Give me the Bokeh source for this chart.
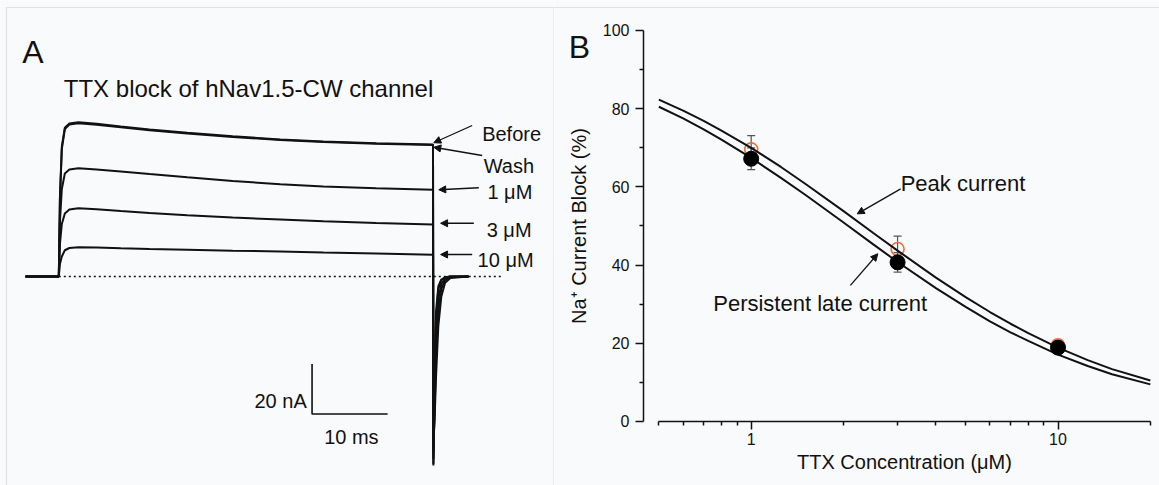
from bokeh.plotting import figure
from bokeh.layouts import row
from bokeh.models import (ColumnDataSource, Label, Arrow, NormalHead, BoxAnnotation,
                          FixedTicker, Whisker, TeeHead, Range1d)
from bokeh.embed import file_html
from bokeh.resources import INLINE
from bokeh.core.properties import value

FONT = "Liberation Sans"
BG = "#f9fafc"
INK = "#111111"
FRAME = "#a9a9a9"

# ---------------- Panel A data (ms, nA) ----------------
time_ms = [-4.4, 0.0, 0.15, 0.4, 0.8, 1.4, 2.6, 5.0, 8.2, 12.0, 17.0, 23.0, 29.3, 35.0, 42.0, 49.5,
           49.55, 49.7, 49.9, 50.2, 50.6, 51.1, 51.8, 54.2]
trace_before = [0, 0, 32, 52, 59.5, 61.2, 61.7, 61.1, 60.0, 58.8, 57.5, 56.1, 54.8, 54.0, 53.3, 52.8,
                -75.6, -40, -14, -4, -1.2, -0.3, 0, 0]
trace_wash = [0, 0, 31, 51, 59.0, 60.8, 61.3, 60.7, 59.7, 58.5, 57.2, 55.8, 54.6, 53.8, 53.1, 52.6,
              -75.0, -44, -17, -5, -1.5, -0.4, 0, 0]
trace_1uM = [0, 0, 22, 35, 41.2, 42.8, 43.3, 42.8, 42.0, 41.0, 39.7, 38.2, 36.9, 36.0, 35.3, 34.7,
             -73, -50, -24, -9, -3, -0.8, -0.1, 0]
trace_3uM = [0, 0, 13, 21, 25.2, 26.8, 27.3, 26.9, 26.2, 25.4, 24.5, 23.6, 22.8, 22.1, 21.4, 20.8,
             -70, -55, -32, -14, -5, -1.5, -0.3, 0]
trace_10uM = [0, 0, 5, 8, 10.5, 11.4, 11.7, 11.6, 11.3, 11.0, 10.7, 10.3, 10.0, 9.6, 9.2, 8.7,
              -66, -58, -40, -20, -8, -2.5, -0.6, 0]

trace_names = ["Before", "Wash", "1 μM", "3 μM", "10 μM"]
name_t = [56.0, 56.2, 56.7, 56.6, 55.4]
name_I = [57.1, 44.1, 33.7, 18.8, 6.7]
arrow_t0 = [54.68, 56.0, 55.56, 54.9, 54.68]
arrow_I0 = [60.4, 48.4, 35.5, 21.3, 8.8]
arrow_t1 = [49.6, 49.6, 50.26, 50.5, 50.5]
arrow_I1 = [53.5, 51.7, 34.7, 21.3, 8.8]

zero_t = [0.0, 58.7]
zero_I = [0.0, 0.0]
scalebar_t = [33.5, 33.5, 43.5]
scalebar_I = [-35.0, -55.0, -55.0]

# ---------------- Panel B data ----------------
conc = [1.0, 3.0, 10.0]
peak_mean = [69.6, 44.1, 19.5]
peak_err = [3.5, 3.3, 1.0]
late_mean = [67.2, 40.7, 18.9]
late_err = [2.8, 2.5, 1.0]

fit_conc = [0.5, 0.6, 0.7, 0.8, 1.0, 1.25, 1.5, 2.0, 2.5, 3.0, 4.0, 5.0, 6.0, 7.0, 8.0, 10.0, 12.5, 15.0, 20.0]
peak_fit = [82.3, 79.5, 76.9, 74.4, 70.0, 65.1, 60.8, 53.8, 48.2, 43.7, 36.8, 31.8, 28.0, 25.0, 22.6, 18.9, 15.7, 13.4, 10.5]
late_fit = [80.5, 77.5, 74.7, 72.1, 67.4, 62.3, 58.0, 50.9, 45.3, 40.8, 34.1, 29.3, 25.6, 22.8, 20.6, 17.1, 14.2, 12.1, 9.5]

x_ticks = [1, 10]
x_minor = [0.5, 0.6, 0.7, 0.8, 0.9, 2, 3, 4, 5, 6, 7, 8, 9, 20]
y_ticks = [0, 20, 40, 60, 80, 100]
y_minor = [10, 30, 50, 70, 90]

# ================= Panel A =================
pA = figure(width=554, height=485, x_range=Range1d(-7.712, 65.57), y_range=Range1d(-83.6, 110.4),
            x_axis_location=None, y_axis_location=None, toolbar_location=None,
            output_backend="svg", min_border=0, background_fill_color=BG, border_fill_color=BG,
            outline_line_color=None)
pA.grid.visible = False

pA.add_layout(BoxAnnotation(left=-6.918, right=65.50, top=107.6, bottom=-120,
                            fill_alpha=0, line_color=FRAME, line_width=1.2))

pA.line(zero_t, zero_I, line_color=INK, line_width=1.3, line_dash="2 3")
for tr in [trace_10uM, trace_3uM, trace_1uM, trace_wash, trace_before]:
    pA.line(time_ms, tr, line_color=INK, line_width=2.0)

src_a = ColumnDataSource(dict(x0=arrow_t0, y0=arrow_I0, x1=arrow_t1, y1=arrow_I1))
pA.add_layout(Arrow(source=src_a, x_start="x0", y_start="y0", x_end="x1", y_end="y1",
                    line_color=INK, line_width=1.3,
                    end=NormalHead(size=7, fill_color=INK, line_color=INK, line_width=1)))
pA.text(name_t, name_I, text=trace_names, text_font=value(FONT), text_font_size="20px",
        text_color=INK, text_baseline="alphabetic", text_align="left")

pA.line(scalebar_t, scalebar_I, line_color=INK, line_width=1.6)
pA.add_layout(Label(x=32.8, y=-49.6, text="20 nA", text_font=FONT, text_font_size="20px",
                    text_color=INK, text_align="right", text_baseline="alphabetic"))
pA.add_layout(Label(x=38.7, y=-64.0, text="10 ms", text_font=FONT, text_font_size="20px",
                    text_color=INK, text_align="center", text_baseline="alphabetic"))

pA.add_layout(Label(x=-4.84, y=89.7, text="A", text_font=FONT, text_font_size="32px",
                    text_color=INK, text_baseline="alphabetic"))
pA.add_layout(Label(x=0.66, y=75.1, text="TTX block of hNav1.5-CW channel", text_font=FONT,
                    text_font_size="24px", text_color=INK, text_baseline="alphabetic"))

# ================= Panel B =================
pB = figure(width=605, height=485, x_axis_type="log", x_range=Range1d(0.2285, 21.42),
            y_range=Range1d(-16.37, 107.67), toolbar_location=None, output_backend="svg",
            min_border=0, background_fill_color=BG, border_fill_color=BG, outline_line_color=None)
pB.grid.visible = False

pB.xaxis.ticker = FixedTicker(ticks=x_ticks, minor_ticks=x_minor)
pB.yaxis.ticker = FixedTicker(ticks=y_ticks, minor_ticks=y_minor)
pB.xaxis.major_label_overrides = {1: "1", 10: "10"}
pB.xaxis.bounds = (min(x_minor), max(x_minor))
pB.yaxis.bounds = (min(y_ticks), max(y_ticks))
pB.xaxis.fixed_location = 0
pB.yaxis.fixed_location = 0.4457
for ax in (pB.xaxis[0], pB.yaxis[0]):
    ax.axis_line_color = INK
    ax.axis_line_width = 1.5
    ax.major_tick_line_color = INK
    ax.major_tick_line_width = 1.5
    ax.minor_tick_line_color = INK
    ax.minor_tick_line_width = 1.5
    ax.major_tick_in = 0
    ax.major_tick_out = 8
    ax.minor_tick_in = 0
    ax.minor_tick_out = 4
    ax.major_label_text_font = FONT
    ax.major_label_text_font_size = "16px"
    ax.major_label_text_color = INK
    ax.axis_label_text_font = FONT
    ax.axis_label_text_font_size = "20px"
    ax.axis_label_text_font_style = "normal"
    ax.axis_label_text_color = INK
pB.xaxis.major_label_standoff = 4
pB.yaxis.major_label_standoff = 6
pB.xaxis.axis_label = "TTX Concentration (μM)"
pB.yaxis.axis_label = "Na⁺ Current Block (%)"
pB.xaxis.axis_label_standoff = 2
pB.yaxis.axis_label_standoff = 10

# top frame line of the figure panel
pB.add_layout(BoxAnnotation(left=0.2, right=30, top=105.88, bottom=105.88,
                            fill_alpha=0, line_color=FRAME, line_width=1.2))

err_p = ColumnDataSource(dict(base=conc, upper=[m + e for m, e in zip(peak_mean, peak_err)],
                              lower=[m - e for m, e in zip(peak_mean, peak_err)]))
err_l = ColumnDataSource(dict(base=conc, upper=[m + e for m, e in zip(late_mean, late_err)],
                              lower=[m - e for m, e in zip(late_mean, late_err)]))
for src in (err_p, err_l):
    pB.add_layout(Whisker(source=src, base="base", upper="upper", lower="lower", level="underlay",
                          line_color="#555555", line_width=1.2,
                          upper_head=TeeHead(size=8, line_color="#555555", line_width=1.2),
                          lower_head=TeeHead(size=8, line_color="#555555", line_width=1.2)))
pB.scatter(conc, peak_mean, size=13, marker="circle", fill_color=None,
           line_color="#e8703e", line_width=1.6)
pB.line(fit_conc, peak_fit, line_color=INK, line_width=2.0)
pB.line(fit_conc, late_fit, line_color=INK, line_width=2.0)
pB.scatter(conc, late_mean, size=15, marker="circle", fill_color="#000000", line_color="#000000")

pB.add_layout(Label(x=3.07, y=60.8, text="Peak current", text_font=FONT, text_font_size="22px",
                    text_color=INK, text_baseline="alphabetic"))
pB.add_layout(Label(x=0.752, y=30.1, text="Persistent late current", text_font=FONT,
                    text_font_size="22px", text_color=INK, text_baseline="alphabetic"))
src_b = ColumnDataSource(dict(x0=[3.07, 2.105], y0=[59.5, 34.8], x1=[2.216, 2.586], y1=[53.1, 42.9]))
pB.add_layout(Arrow(source=src_b, x_start="x0", y_start="y0", x_end="x1", y_end="y1",
                    line_color=INK, line_width=1.3,
                    end=NormalHead(size=7, fill_color=INK, line_color=INK, line_width=1)))
pB.add_layout(Label(x=0.2543, y=95.7, text="B", text_font=FONT, text_font_size="32px",
                    text_color=INK, text_baseline="alphabetic"))

layout = row(pA, pB, spacing=0)
open("out.html", "w").write(file_html(layout, INLINE))
